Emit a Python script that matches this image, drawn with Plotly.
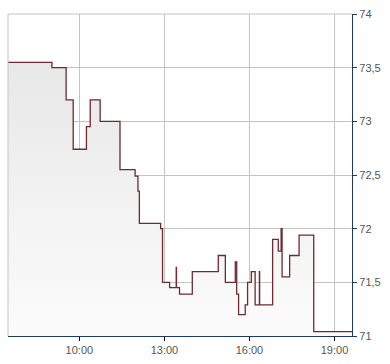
import plotly.graph_objects as go

day = "2024-01-15 "
times = ["07:29:00", "09:02:00", "09:32:00", "09:47:00", "10:15:00", "10:23:00",
         "10:44:00", "11:26:00", "11:58:00", "12:04:00", "12:07:00", "12:52:00",
         "12:56:00", "13:11:00", "13:25:00", "13:25:30", "13:32:00", "13:59:00",
         "14:54:00", "15:09:00", "15:30:00", "15:33:00", "15:37:00", "15:51:00",
         "15:56:00", "16:04:00", "16:12:00", "16:21:00", "16:21:30", "16:49:00",
         "17:01:00", "17:07:00", "17:09:00", "17:25:00", "17:45:00", "18:16:00",
         "19:37:00"]
values = [73.55, 73.50, 73.20, 72.74, 72.95, 73.20,
          73.00, 72.55, 72.49, 72.35, 72.05, 72.00,
          71.50, 71.45, 71.64, 71.45, 71.39, 71.60,
          71.75, 71.50, 71.69, 71.39, 71.20, 71.29,
          71.50, 71.60, 71.29, 71.60, 71.29, 71.90,
          71.79, 72.00, 71.55, 71.75, 71.94, 71.04,
          71.04]
x_ticks = ["10:00", "13:00", "16:00", "19:00"]
y_ticks = [71, 71.5, 72, 72.5, 73, 73.5, 74]

xs = [day + t for t in times]

fig = go.Figure()
fig.add_trace(go.Scatter(
    x=xs, y=values, mode="lines", line=dict(shape="hv", color="#6e2a2e", width=1.3),
    fill="tozeroy",
    fillgradient=dict(type="vertical", colorscale=[[0, "#fcfcfc"], [1, "#e8e8e8"]],
                      start=71, stop=73.55),
    hoverinfo="skip", showlegend=False,
))

axis_col = "#1b3a6b"
fig.update_layout(
    width=390, height=364,
    margin=dict(l=8, r=38, t=11, b=26),
    paper_bgcolor="white", plot_bgcolor="white",
    separators=", ",
    font=dict(family="Liberation Sans, Arial, sans-serif", size=11, color="#555555"),
    xaxis=dict(
        type="date",
        range=[day + "07:29:00", day + "19:37:00"],
        tickvals=[day + t for t in x_ticks], ticktext=x_ticks,
        showgrid=True, gridcolor="#c4c4c4", gridwidth=1,
        showline=True, linecolor=axis_col, linewidth=1.2,
        ticks="outside", ticklen=4, tickcolor="#000000", tickwidth=1,
        zeroline=False, fixedrange=True,
    ),
    yaxis=dict(
        side="right",
        range=[71, 74],
        tickvals=y_ticks,
        showgrid=True, gridcolor="#c4c4c4", gridwidth=1,
        showline=True, linecolor=axis_col, linewidth=1.2,
        ticks="outside", ticklen=4, tickcolor=axis_col, tickwidth=1,
        zeroline=False, fixedrange=True,
    ),
    shapes=[
        dict(type="line", xref="paper", yref="paper", x0=0, x1=0, y0=0, y1=1,
             line=dict(color="#c4c4c4", width=1)),
        dict(type="line", xref="paper", yref="paper", x0=0, x1=1, y0=1, y1=1,
             line=dict(color="#c4c4c4", width=1)),
    ],
)

fig.write_html("out.html")
